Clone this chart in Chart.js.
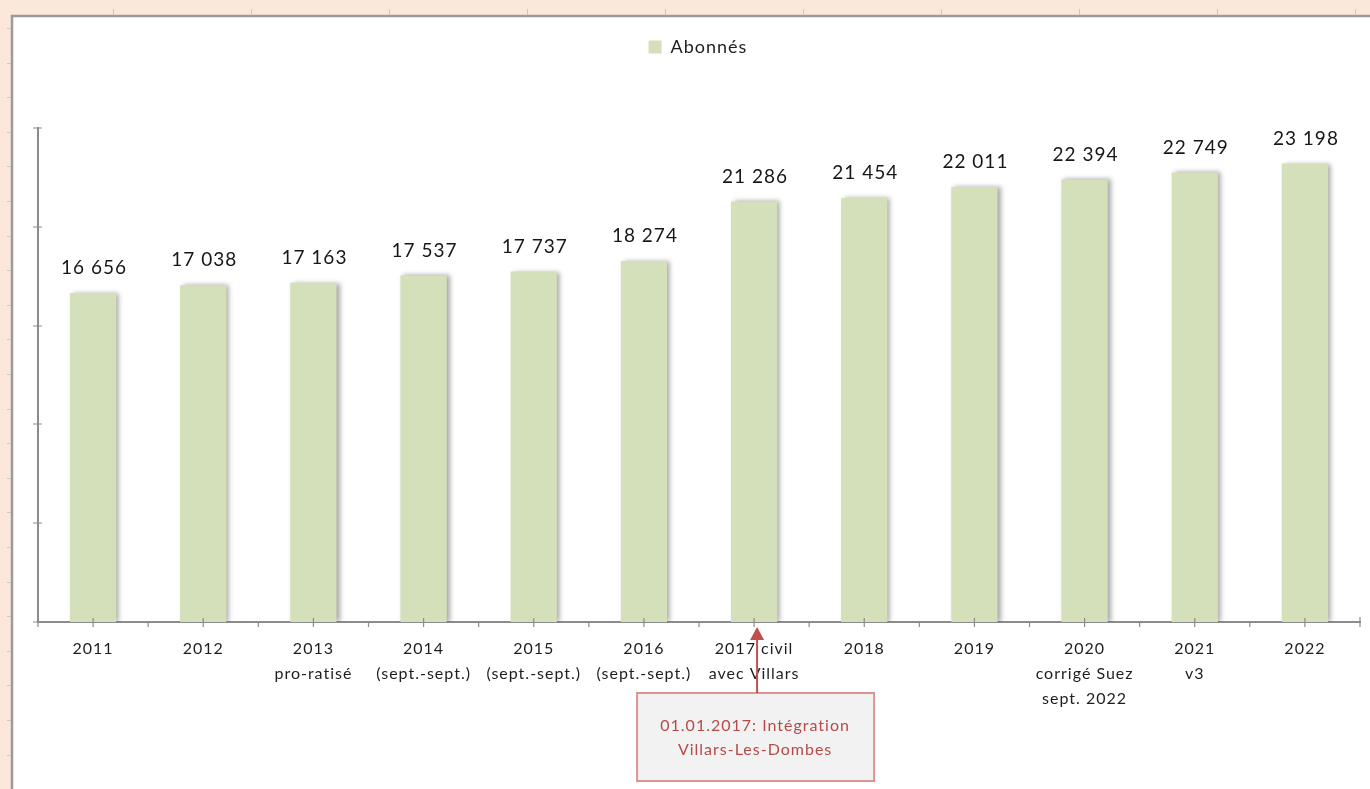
<!DOCTYPE html>
<html lang="fr">
<head>
<meta charset="utf-8">
<title>Abonnés</title>
<script src="https://cdn.jsdelivr.net/npm/chart.js@4.4.1/dist/chart.umd.min.js"></script>
<style>
    html, body { margin: 0; padding: 0; background: #fce8da; }
    #wrap { position: relative; width: 1370px; height: 789px; }
</style>
</head>
<body>
<div id="wrap"><canvas id="abonnes"></canvas></div>
<script>
// données du graphique
var years = [
    "2011",
    "2012",
    ["2013", "pro-ratisé"],
    ["2014", "(sept.-sept.)"],
    ["2015", "(sept.-sept.)"],
    ["2016", "(sept.-sept.)"],
    ["2017 civil", "avec Villars"],
    "2018",
    "2019",
    ["2020", "corrigé Suez", "sept. 2022"],
    ["2021", "v3"],
    "2022",
];
var abonnes = [16656, 17038, 17163, 17537, 17737, 18274, 21286, 21454, 22011, 22394, 22749, 23198];
var yTicks = [0, 5000, 10000, 15000, 20000, 25000];
var noteIndex = 6;
var noteLines = ["01.01.2017: Intégration", "Villars-Les-Dombes"];

function fmt(v) {
    return String(v).replace(/\B(?=(\d{3})+(?!\d))/g, " ");
}

// fond style tableur + espacement des lettres
var sheetBg = {
    id: "sheetBg",
    beforeLayout: function (chart) {
        chart.ctx.letterSpacing = "1px";
    },
    beforeDraw: function (chart) {
        var ctx = chart.ctx;
        ctx.letterSpacing = "1px";
        ctx.save();
        ctx.fillStyle = "#fce8da";
        ctx.fillRect(0, 0, chart.width, chart.height);
        ctx.fillStyle = "#ffffff";
        ctx.fillRect(11, 15, chart.width, chart.height);
        ctx.strokeStyle = "#9a9a9a";
        ctx.lineWidth = 2.5;
        ctx.beginPath();
        ctx.moveTo(12, chart.height + 5);
        ctx.lineTo(12, 16);
        ctx.lineTo(chart.width + 5, 16);
        ctx.stroke();
        // petits repères de cellules
        ctx.strokeStyle = "#c8c8c8";
        ctx.lineWidth = 1;
        ctx.beginPath();
        for (var x = 113; x < chart.width; x += 138) {
            ctx.moveTo(x + 0.5, 9);
            ctx.lineTo(x + 0.5, 15);
        }
        for (var y = 28; y < chart.height; y += 34.6) {
            ctx.moveTo(7, Math.round(y) + 0.5);
            ctx.lineTo(11, Math.round(y) + 0.5);
        }
        ctx.stroke();
        ctx.restore();
    },
};

// ombre à droite des barres
var barShadow = {
    id: "barShadow",
    beforeDatasetDraw: function (chart) {
        var ctx = chart.ctx;
        ctx.save();
        ctx.shadowColor = "rgba(0, 0, 0, 0.35)";
        ctx.shadowBlur = 5;
        ctx.shadowOffsetX = 3;
        ctx.shadowOffsetY = 0;
    },
    afterDatasetDraw: function (chart) {
        chart.ctx.restore();
    },
};

// graduations qui croisent les axes
var axisTicks = {
    id: "axisTicks",
    afterDatasetsDraw: function (chart) {
        var ctx = chart.ctx;
        var xs = chart.scales.x;
        var ys = chart.scales.y;
        var area = chart.chartArea;
        ctx.save();
        ctx.strokeStyle = "#8c8c8c";
        ctx.lineWidth = 1.2;
        ctx.beginPath();
        yTicks.forEach(function (t) {
            var py = Math.round(ys.getPixelForValue(t));
            ctx.moveTo(area.left - 5, py);
            ctx.lineTo(area.left + 4, py);
        });
        var step = (area.right - area.left) / years.length;
        for (var i = 0; i <= years.length; i++) {
            var bx = area.left + i * step;
            ctx.moveTo(bx, area.bottom - (i === years.length ? 5 : 0));
            ctx.lineTo(bx, area.bottom + 5);
        }
        years.forEach(function (_, i) {
            var cx = xs.getPixelForValue(i);
            ctx.moveTo(cx, area.bottom - 4);
            ctx.lineTo(cx, area.bottom + 5);
        });
        ctx.stroke();
        ctx.restore();
    },
};

// étiquettes de valeurs
var valueLabels = {
    id: "valueLabels",
    afterDatasetsDraw: function (chart) {
        var ctx = chart.ctx;
        var meta = chart.getDatasetMeta(0);
        ctx.save();
        ctx.font = "19px Lato";
        ctx.fillStyle = "#161616";
        ctx.textAlign = "center";
        ctx.textBaseline = "middle";
        meta.data.forEach(function (bar, i) {
            ctx.fillText(fmt(abonnes[i]), bar.x + 1, bar.y - 25);
        });
        ctx.restore();
    },
};

// encadré 2017 + flèche
var note2017 = {
    id: "note2017",
    afterDraw: function (chart) {
        var ctx = chart.ctx;
        var ax = chart.scales.x.getPixelForValue(noteIndex) + 3;
        var top = chart.chartArea.bottom + 71;
        ctx.save();
        ctx.fillStyle = "#f2f2f2";
        ctx.fillRect(ax - 120, top, 237, 88);
        ctx.strokeStyle = "#d99593";
        ctx.lineWidth = 2;
        ctx.strokeRect(ax - 120, top, 237, 88);

        ctx.strokeStyle = "#c0504d";
        ctx.lineWidth = 2;
        ctx.beginPath();
        ctx.moveTo(ax, top);
        ctx.lineTo(ax, chart.chartArea.bottom + 16);
        ctx.stroke();
        ctx.fillStyle = "#c0504d";
        ctx.beginPath();
        ctx.moveTo(ax, chart.chartArea.bottom + 5);
        ctx.lineTo(ax - 7, chart.chartArea.bottom + 18);
        ctx.lineTo(ax + 7, chart.chartArea.bottom + 18);
        ctx.closePath();
        ctx.fill();

        ctx.font = "16px Lato";
        ctx.fillStyle = "#b44b48";
        ctx.textAlign = "center";
        ctx.textBaseline = "middle";
        ctx.fillText(noteLines[0], ax - 2, top + 33);
        ctx.fillText(noteLines[1], ax - 2, top + 57);
        ctx.restore();
    },
};

var ctx = document.getElementById("abonnes").getContext("2d");
var chart = new Chart(ctx, {
    type: "bar",
    data: {
        labels: years,
        datasets: [
            {
                label: "Abonnés",
                data: abonnes,
                backgroundColor: "#d4e0ba",
                borderWidth: 0,
                categoryPercentage: 1,
                barPercentage: 0.42,
            },
        ],
    },
    options: {
        responsive: true,
        maintainAspectRatio: false,
        animation: false,
        layout: {
            padding: { top: 28, left: 36, right: 10, bottom: 0 },
        },
        plugins: {
            legend: {
                display: true,
                position: "top",
                labels: {
                    boxWidth: 13,
                    boxHeight: 13,
                    padding: 10,
                    color: "#1e1e1e",
                    font: { family: "Lato", size: 18 },
                },
            },
            title: {
                display: true,
                text: "",
                weight: 500,
                padding: { top: 0, bottom: 47.6 },
            },
            tooltip: { enabled: false },
        },
        scales: {
            x: {
                grid: { display: false, drawTicks: false },
                border: { display: true, color: "#8c8c8c", width: 2 },
                ticks: {
                    padding: 14,
                    color: "#1e1e1e",
                    font: { family: "Lato", size: 16, lineHeight: 1.5625 },
                    maxRotation: 0,
                    autoSkip: false,
                },
                afterFit: function (scale) {
                    scale.height = 167;
                },
            },
            y: {
                min: 0,
                max: 25000,
                ticks: { display: false, stepSize: 5000 },
                grid: { display: false, drawTicks: false },
                border: { display: true, color: "#8c8c8c", width: 2 },
                afterFit: function (scale) {
                    scale.width = 2;
                },
            },
        },
    },
    plugins: [sheetBg, barShadow, axisTicks, valueLabels, note2017],
});
</script>
</body>
</html>
